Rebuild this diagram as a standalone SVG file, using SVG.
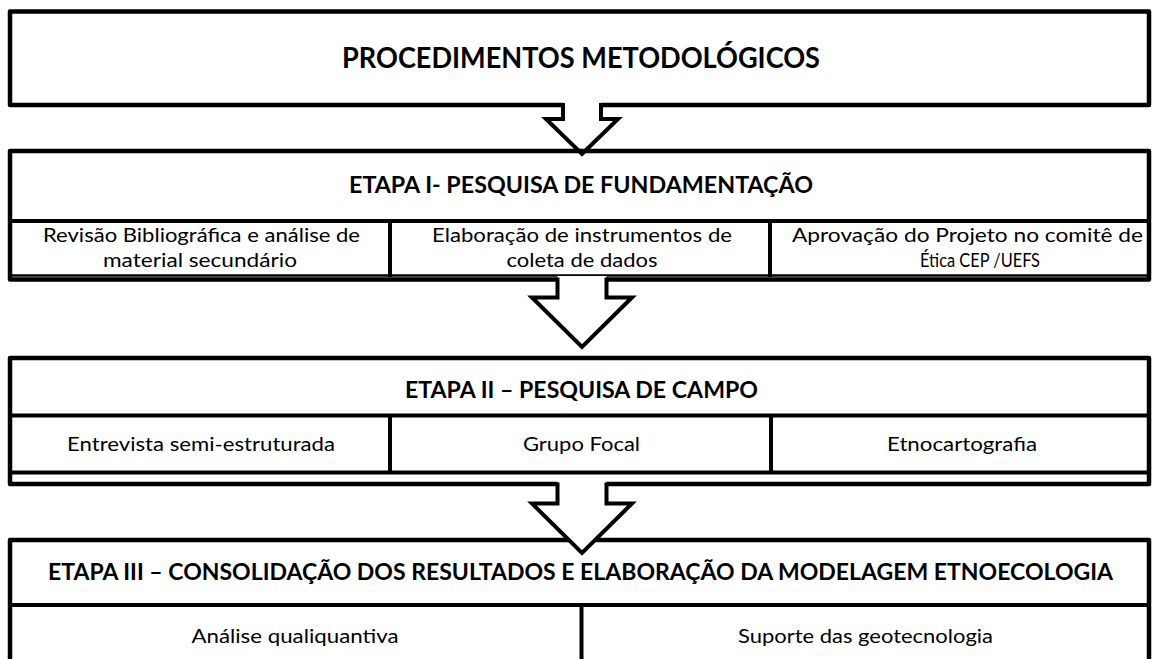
<svg xmlns="http://www.w3.org/2000/svg" width="1153" height="659" viewBox="0 0 1153 659">
<style>
.box{fill:none;stroke:#000;stroke-width:4.5;stroke-linejoin:round}
.ln{stroke:#000;stroke-width:4;fill:none}
.thin{stroke:#000;stroke-width:2.5;fill:none}
.ttl{font-family:Lato,"Liberation Sans",sans-serif;font-weight:bold;font-size:28px;fill:#000;text-anchor:middle}
.et{font-family:Lato,"Liberation Sans",sans-serif;font-weight:bold;font-size:22px;fill:#000;text-anchor:middle}
.tx{font-family:Lato,"Liberation Sans",sans-serif;font-size:19.5px;fill:#000;text-anchor:middle}
.afill{fill:#fff;stroke:none}
.aline{fill:none;stroke:#000;stroke-width:4;stroke-linejoin:miter}
</style>
<rect width="1153" height="659" fill="#fff"/>

<g id="node-procedimentos">
<rect class="box" x="10" y="11.5" width="1139" height="93.5"/>
<text class="ttl" x="581" y="68" textLength="478" lengthAdjust="spacingAndGlyphs">PROCEDIMENTOS METODOLÓGICOS</text>
</g>

<g id="node-etapa1">
<rect class="box" x="10" y="151" width="1139" height="128.5"/>
<line class="ln" x1="10" y1="221" x2="1149" y2="221"/>
<line class="thin" x1="10" y1="275.5" x2="1149" y2="275.5"/>
<line class="ln" x1="390" y1="221" x2="390" y2="277"/>
<line class="ln" x1="770" y1="221" x2="770" y2="277"/>
<text class="et" x="581" y="193" textLength="464" lengthAdjust="spacingAndGlyphs">ETAPA I- PESQUISA DE FUNDAMENTAÇÃO</text>
<text class="tx" x="201.5" y="242" textLength="317" lengthAdjust="spacingAndGlyphs">Revisão Bibliográfica e análise de</text>
<text class="tx" x="200" y="267" textLength="194" lengthAdjust="spacingAndGlyphs">material secundário</text>
<text class="tx" x="582" y="242" textLength="300" lengthAdjust="spacingAndGlyphs">Elaboração de instrumentos de</text>
<text class="tx" x="582" y="267" textLength="151" lengthAdjust="spacingAndGlyphs">coleta de dados</text>
<text class="tx" x="967.5" y="242" textLength="351" lengthAdjust="spacingAndGlyphs">Aprovação do Projeto no comitê de</text>
<text class="tx" x="980" y="267" textLength="120" lengthAdjust="spacingAndGlyphs">Ética CEP /UEFS</text>
</g>

<g id="node-etapa2">
<rect class="box" x="10" y="358" width="1139" height="126"/>
<line class="ln" x1="10" y1="415.5" x2="1149" y2="415.5"/>
<line class="ln" x1="10" y1="472.5" x2="1149" y2="472.5"/>
<line class="ln" x1="390" y1="415.5" x2="390" y2="474"/>
<line class="ln" x1="771" y1="415.5" x2="771" y2="474"/>
<text class="et" x="581.5" y="398" textLength="353" lengthAdjust="spacingAndGlyphs">ETAPA II – PESQUISA DE CAMPO</text>
<text class="tx" x="201" y="451" textLength="268" lengthAdjust="spacingAndGlyphs">Entrevista semi-estruturada</text>
<text class="tx" x="581.5" y="451" textLength="117" lengthAdjust="spacingAndGlyphs">Grupo Focal</text>
<text class="tx" x="962" y="451" textLength="150" lengthAdjust="spacingAndGlyphs">Etnocartografia</text>
</g>

<g id="node-etapa3">
<path class="box" d="M10 665 V540 H1149 V665"/>
<line class="ln" x1="10" y1="605" x2="1149" y2="605"/>
<line class="ln" x1="581.5" y1="605" x2="581.5" y2="665"/>
<text class="et" x="580.5" y="580" textLength="1065" lengthAdjust="spacingAndGlyphs">ETAPA III – CONSOLIDAÇÃO DOS RESULTADOS E ELABORAÇÃO DA MODELAGEM ETNOECOLOGIA</text>
<text class="tx" x="295" y="643" textLength="207" lengthAdjust="spacingAndGlyphs">Análise qualiquantiva</text>
<text class="tx" x="865.5" y="643" textLength="255" lengthAdjust="spacingAndGlyphs">Suporte das geotecnologia</text>
</g>

<g id="connectors">
<g id="arrow-1">
<polygon class="afill" points="563,101.5 563,119 546,119 575.8,148 588.2,148 618,119 601,119 601,101.5"/>
<path class="aline" d="M563 103 V119 H546 L582 154 L618 119 H601 V103"/>
</g>
<g id="arrow-2">
<polygon class="afill" points="557.5,276 557.5,297.5 532,297.5 582,347 632,297.5 606.5,297.5 606.5,276"/>
<path class="aline" d="M557.5 277.5 V297.5 H532 L582 347 L632 297.5 H606.5 V277.5"/>
</g>
<g id="arrow-3">
<polygon class="afill" points="557.5,481 557.5,503.5 532,503.5 582,553 632,503.5 606.5,503.5 606.5,481"/>
<path class="aline" d="M557.5 482.5 V503.5 H532 L582 553 L632 503.5 H606.5 V482.5"/>
</g>
</g>
</svg>
